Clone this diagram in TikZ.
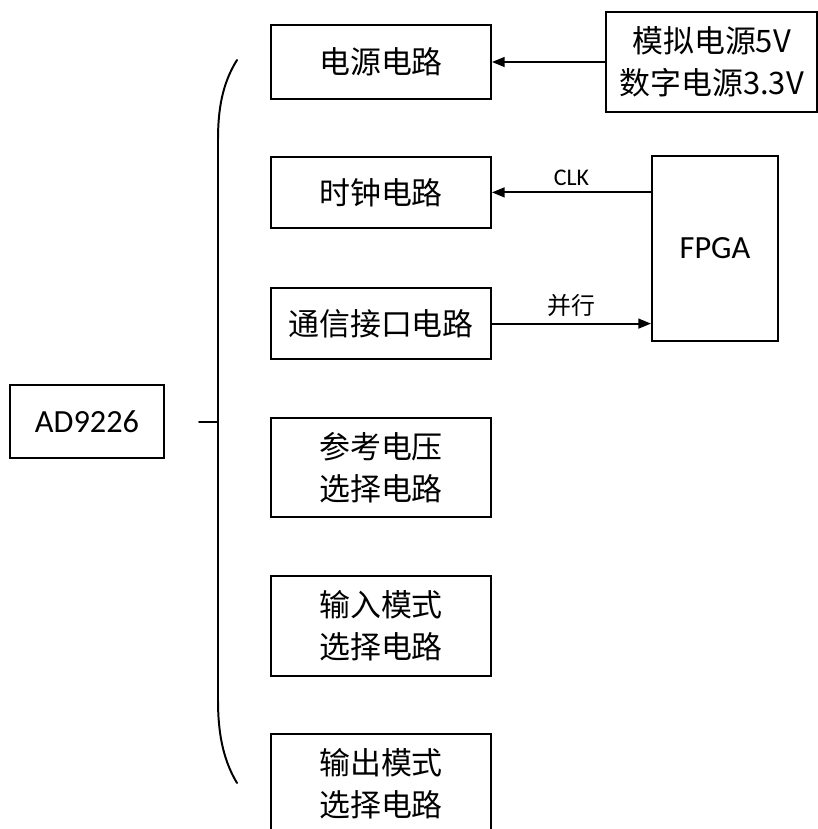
\documentclass[tikz,border=0pt]{standalone}
\usepackage{fontspec}
\setmainfont{Carlito}
\newfontfamily\cjk{Noto Sans CJK SC}
\usepackage{xcolor}
\usetikzlibrary{calc,arrows.meta}
\definecolor{ink}{HTML}{000000}
\tikzset{
  blk/.style={draw=ink, line width=1.4pt, inner sep=0pt, align=center,
    font=\cjk\fontsize{22}{30}\selectfont},
  lat/.style={blk, font=\fontsize{23}{28}\selectfont},
  wire/.style={draw=ink, line width=1.3pt, -{Triangle[length=9pt,width=7pt]}},
  brc/.style={draw=ink, line width=1.4pt, line cap=round},
  lab/.style={text=ink, font=\cjk\fontsize{17}{20}\selectfont, inner sep=4pt},
}
\begin{document}
\begin{tikzpicture}
  \useasboundingbox (0,0) rectangle (20.45,-20.725);
  % left chip and brace
  \node[lat, minimum width=3.85cm, minimum height=1.83cm] (chip) at (2.175,-10.54) {AD9226};
  \coordinate (tk) at (4.975,-10.55);
  \coordinate (tkend) at (5.45,-10.55);
  \draw[brc] (5.925,-1.5) .. controls (5.55,-2.1) and (5.45,-2.75) .. (5.45,-3.5)
    -- (5.45,-17.5) .. controls (5.45,-18.25) and (5.55,-18.95) .. (5.925,-19.575);
  \draw[brc] (tk) -- (tkend);
  % circuit blocks
  \node[blk, minimum width=5.5cm, minimum height=1.83cm] (pwr) at (9.525,-1.55) {电源电路};
  \node[blk, minimum width=5.5cm, minimum height=1.78cm] (clk) at (9.525,-4.81) {时钟电路};
  \node[blk, minimum width=5.5cm, minimum height=1.78cm] (com) at (9.525,-8.09) {通信接口电路};
  \node[blk, minimum width=5.5cm, minimum height=2.48cm] (ref) at (9.525,-11.69) {参考电压\\选择电路};
  \node[blk, minimum width=5.5cm, minimum height=2.5cm] (inm) at (9.525,-15.65) {输入模式\\选择电路};
  \node[blk, minimum width=5.5cm, minimum height=2.5cm] (outm) at (9.525,-19.6) {输出模式\\选择电路};
  % right side
  \node[blk, minimum width=5.275cm, minimum height=2.5cm] (sup) at (17.79,-1.55) {模拟电源5V\\数字电源3.3V};
  \node[lat, minimum width=3.15cm, minimum height=4.63cm] (fpga) at (17.875,-6.21) {FPGA};
  \draw[wire] (sup.west) -- (pwr.east);
  \draw[wire] (fpga.west |- clk.east) -- node[lab, above, font=\fontsize{17}{20}\selectfont] {CLK} (clk.east);
  \draw[wire] (com.east) -- node[lab, above] {并行} (fpga.west |- com.east);
\end{tikzpicture}
\end{document}
